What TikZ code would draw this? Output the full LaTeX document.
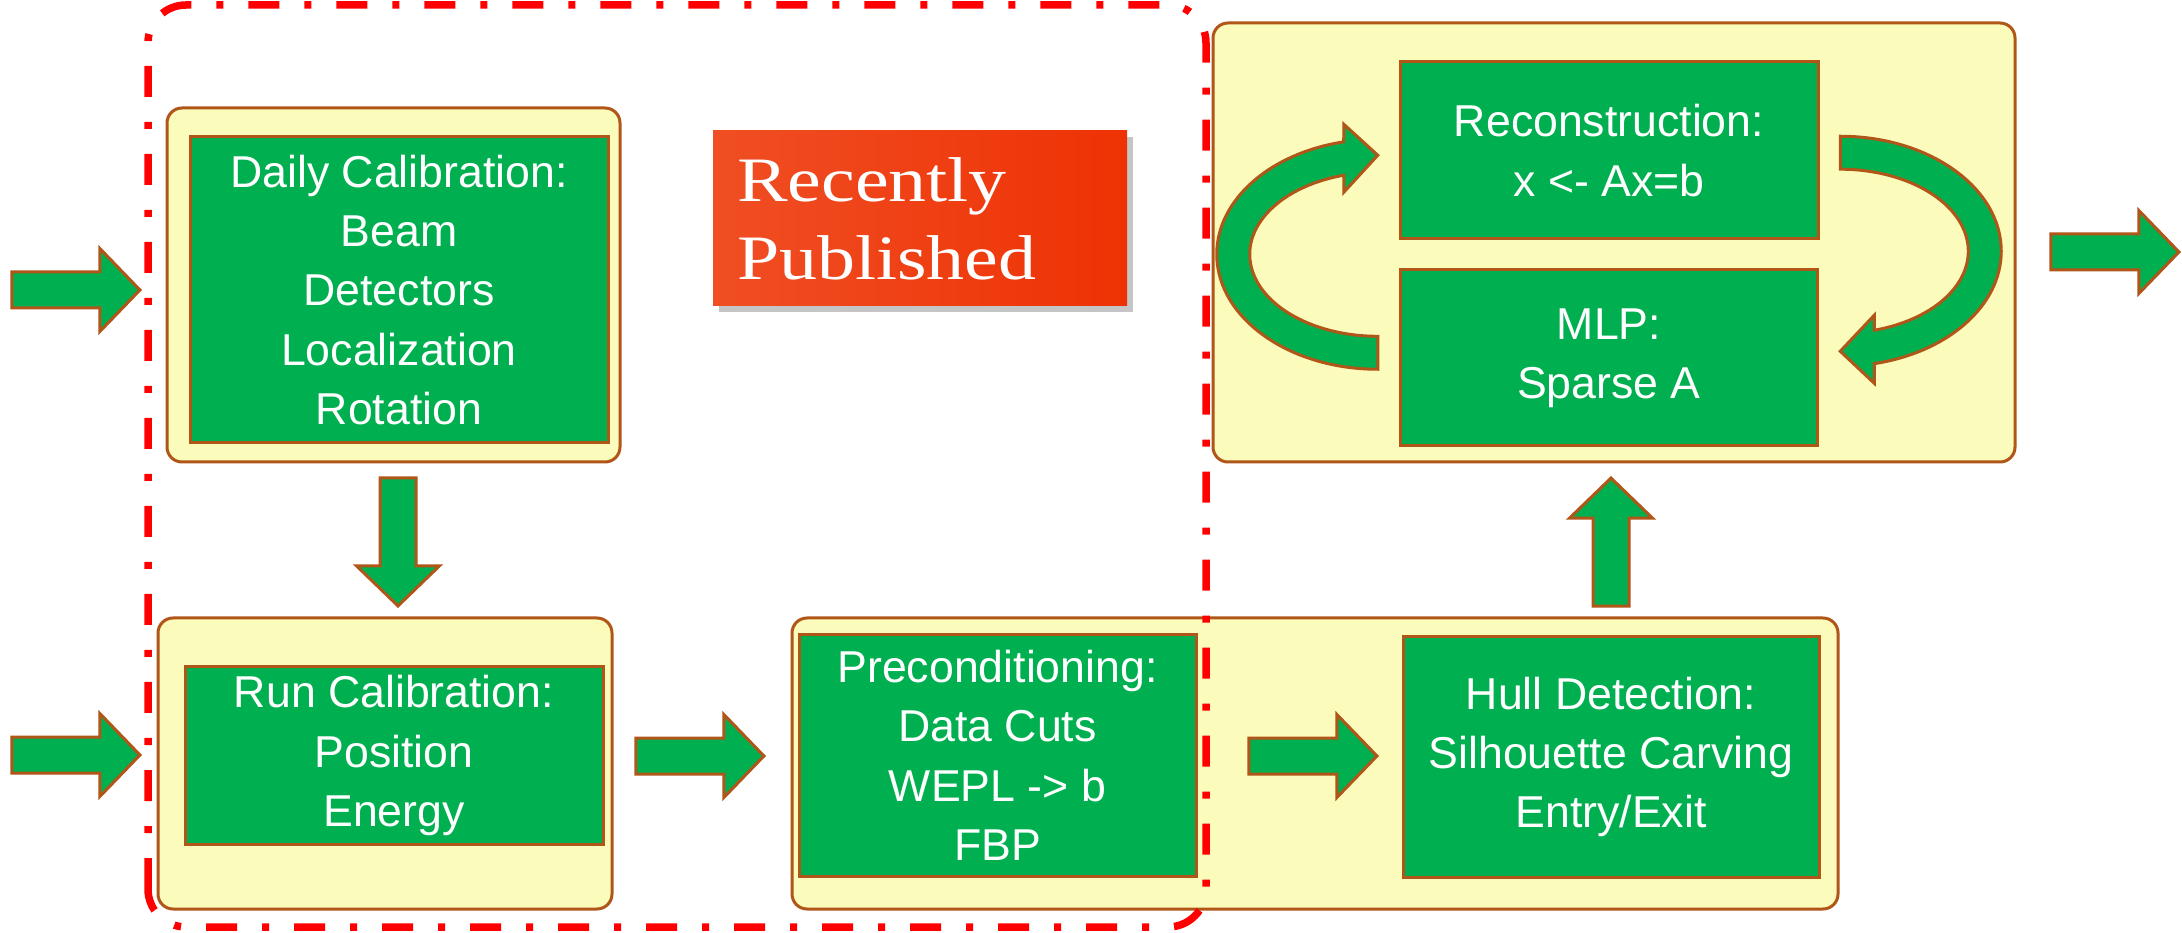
\documentclass[tikz,border=0pt]{standalone}
\usepackage{fontspec}
\setmainfont{Liberation Sans}
\newfontfamily\pubfont[FakeStretch=1.2]{Liberation Serif}
\usepackage{tikz}
\usetikzlibrary{shapes.arrows, shadows, positioning, calc}
\definecolor{grn}{RGB}{0,176,80}
\definecolor{yel}{RGB}{251,251,187}
\definecolor{brn}{RGB}{176,86,24}
\definecolor{publeft}{RGB}{240,78,36}
\definecolor{pubright}{RGB}{238,50,4}

\begin{document}
\begin{tikzpicture}[
  every node/.style={font=\fontsize{12.7}{16.9}\selectfont},
  yelbox/.style={draw=brn,line width=.03cm,fill=yel,rounded corners=.15cm},
  grnbox/.style={draw=brn,line width=.03cm,fill=grn,text=white,align=center,
    inner sep=0pt},
  fatarrow/.style={single arrow,draw=brn,line width=.03cm,fill=grn,anchor=tip,
    inner xsep=0pt,inner ysep=.165cm,minimum height=1.28cm,
    single arrow head extend=.235cm,single arrow tip angle=92},
  bentarrow/.style={draw=brn,line width=.03cm,fill=grn},
  pubbox/.style={left color=publeft,right color=pubright,text=white,
    font=\pubfont\fontsize{18}{22.2}\selectfont,align=left,text width=3.66cm,
    inner xsep=.24cm,minimum height=1.75cm,
    drop shadow={shadow xshift=.06cm,shadow yshift=-.06cm,fill=black!45}},
  recent/.style={draw=red,line width=.075cm,rounded corners=.38cm,
    dash pattern=on .31cm off .25cm on .07cm off .25cm}]
 \useasboundingbox (0,0) rectangle (21.82,9.32);
 % yellow panels
 \node[yelbox,minimum width=4.53cm,minimum height=3.54cm] (yel1) at (3.935,6.47) {};
 \node[yelbox,minimum width=4.54cm,minimum height=2.91cm] (yel2) at (3.85,1.685) {};
 \node[yelbox,minimum width=10.46cm,minimum height=2.91cm] (yel3) at (13.15,1.685) {};
 \node[yelbox,minimum width=8.02cm,minimum height=4.39cm] (yel4) at (16.14,6.895) {};
 % steps
 \node[grnbox,minimum width=4.18cm,minimum height=3.06cm] (daily) at (3.99,6.42)
   {Daily Calibration:\\Beam\\Detectors\\Localization\\Rotation};
 \node[grnbox,minimum width=4.18cm,minimum height=1.77cm] (run) at (3.94,1.765)
   {Run Calibration:\\Position\\Energy};
 \node[grnbox,minimum width=3.97cm,minimum height=2.41cm] (prec) at (9.975,1.765)
   {Preconditioning:\\Data Cuts\\WEPL -> b\\FBP};
 \node[grnbox,minimum width=4.16cm,minimum height=2.40cm] (hull) at (16.11,1.75)
   {Hull Detection:\\Silhouette Carving\\Entry/Exit};
 \node[grnbox,minimum width=4.18cm,minimum height=1.77cm] (recon) at (16.09,7.815)
   {Reconstruction:\\x <- Ax=b};
 \node[grnbox,minimum width=4.17cm,minimum height=1.76cm,below=.28cm of recon] (mlp)
   {MLP:\\Sparse A};
 % block arrows (placed by their tips)
 \node[fatarrow] (in1) at (1.42,6.42) {};
 \node[fatarrow] (in2) at (1.42,1.77) {};
 \node[fatarrow,rotate=-90] (a12) at (3.98,3.24) {};
 \node[fatarrow] (a23) at (7.66,1.76) {};
 \node[fatarrow] (a34) at (13.79,1.76) {};
 \node[fatarrow,rotate=90] (aup) at (16.11,4.56) {};
 \node[fatarrow] (out) at (21.81,6.80) {};
 % iteration loop
 \coordinate (lc) at ($(recon.west)!.5!(mlp.west)+(-.21,0)$);
 \coordinate (rc) at ($(recon.east)!.5!(mlp.east)+(.21,.03)$);
 \begin{scope}[shift={(lc)}]
  \draw[bentarrow] (0,-1.15) arc[start angle=-90,end angle=-257.8,x radius=1.61,y radius=1.15]
    -- (-.34,1.30) -- (0,.99) -- (-.34,.62) -- (-.34,.79)
    arc[start angle=105.4,end angle=270,x radius=1.28,y radius=.82] -- cycle;
 \end{scope}
 \begin{scope}[shift={(rc)}]
  \draw[bentarrow] (0,1.15) arc[start angle=90,end angle=-77.8,x radius=1.61,y radius=1.15]
    -- (.34,-1.32) -- (0,-1.00) -- (.34,-.64) -- (.34,-.79)
    arc[start angle=-74.6,end angle=90,x radius=1.28,y radius=.82] -- cycle;
 \end{scope}
 % published part
 \node[pubbox] (pub) at (9.20,7.135) {Recently\\Published};
 \draw[recent] (1.48,.05) rectangle (12.06,9.27);
\end{tikzpicture}
\end{document}
